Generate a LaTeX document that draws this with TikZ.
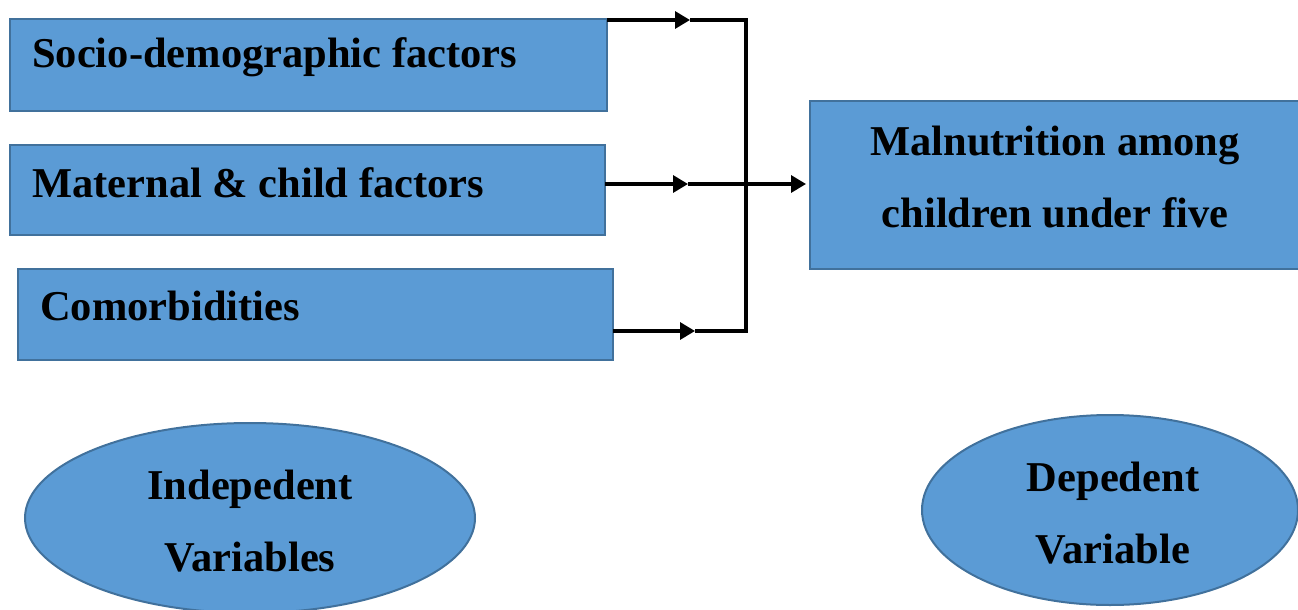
\documentclass[tikz,border=0pt]{standalone}
\usepackage{fontspec}
\setmainfont{Liberation Serif}
\usetikzlibrary{arrows.meta,shapes.geometric}
\definecolor{boxfill}{HTML}{5B9BD5}
\definecolor{boxedge}{HTML}{41719C}
\tikzset{
  varbox/.style={draw=boxedge, fill=boxfill, line width=2pt},
  lbl/.style={font=\bfseries\fontsize{42.5}{50}\selectfont, anchor=west, inner sep=0pt},
  clbl/.style={font=\bfseries\fontsize{42.5}{72}\selectfont, align=center, inner sep=0pt},
  conn/.style={line width=3.2pt, line join=miter},
  tip/.style={-{Triangle[length=15pt,width=17pt]}}
}
\begin{document}
\begin{tikzpicture}[x=1pt,y=-1pt]
\useasboundingbox (0,0) rectangle (1298,610);
% boxes
\draw[varbox] (10,19) rectangle (607,111);
\draw[varbox] (10,145) rectangle (605,235);
\draw[varbox] (18,269) rectangle (613,360);
\draw[varbox] (810,101) rectangle (1304,269);
\node[lbl] (t1) at (32,57) {Socio-demographic factors};
\node[lbl] (t2) at (32,183) {Maternal \& child factors};
\node[lbl] (t3) at (40,306) {Comorbidities};
\node[clbl] (t4) at (1055,177) {Malnutrition among\\children under five};
% ellipses
\draw[varbox] (250,518) ellipse [x radius=225, y radius=95];
\draw[varbox] (1110,510) ellipse [x radius=188, y radius=95];
\node[clbl] (e1) at (250,521) {Indepedent\\Variables};
\node[clbl] (e2) at (1113,513) {Depedent\\Variable};
% connectors
\coordinate (s1) at (607,20);
\coordinate (a1) at (690,20);
\coordinate (c1) at (746,20);
\coordinate (s2) at (605,184);
\coordinate (a2) at (688,184);
\coordinate (m2) at (746,184);
\coordinate (d2) at (806,184);
\coordinate (s3) at (613,331);
\coordinate (a3) at (695,331);
\coordinate (c3) at (746,331);
\draw[conn, tip] (s1) -- (a1);
\draw[conn] (a1) -- (c1) -- (c3) -- (a3);
\draw[conn, tip] (s3) -- (a3);
\draw[conn, tip] (s2) -- (a2);
\draw[conn, tip] (a2) -- (m2) -- (d2);
\end{tikzpicture}
\end{document}
